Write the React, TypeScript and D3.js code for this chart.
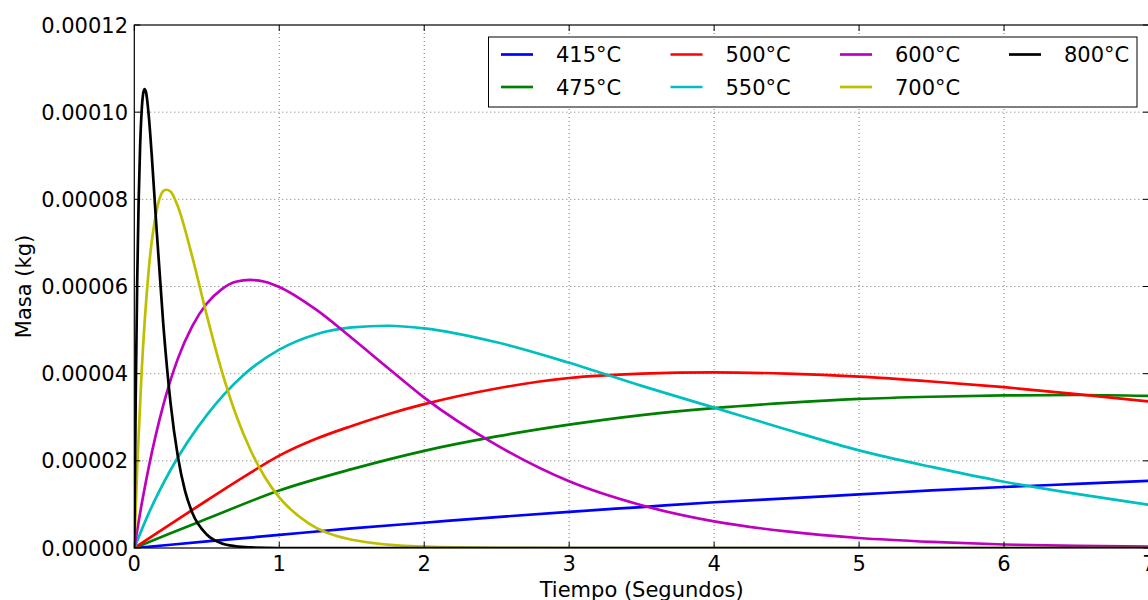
import React from "react";
import * as d3 from "d3";

const UNIT = 1e-5;

const t415 = [0, 0.5, 1, 1.5, 2, 2.5, 3, 3.5, 4, 4.5, 5, 5.5, 6, 6.5, 7];
const v415 = [0, 0.15, 0.3, 0.45, 0.58, 0.71, 0.83, 0.94, 1.05, 1.14, 1.23, 1.32, 1.4, 1.47, 1.54];

const t475 = [0, 0.25, 0.5, 1, 1.5, 2, 2.5, 3, 3.5, 4, 4.5, 5, 5.5, 6, 6.5, 7];
const v475 = [0, 0.34, 0.67, 1.32, 1.81, 2.23, 2.56, 2.83, 3.05, 3.21, 3.33, 3.42, 3.47, 3.5, 3.51, 3.49];

const t500 = [0, 0.25, 0.5, 0.75, 1, 1.25, 1.5, 1.75, 2, 2.5, 3, 3.5, 4, 4.5, 5, 5.5, 6, 6.5, 7];
const v500 = [0, 0.55, 1.09, 1.62, 2.12, 2.5, 2.8, 3.07, 3.3, 3.66, 3.9, 4.0, 4.03, 4.0, 3.93, 3.82, 3.69, 3.53, 3.36];

const t550 = [0, 0.1, 0.25, 0.5, 0.75, 1, 1.25, 1.5, 1.75, 2, 2.5, 3, 3.5, 4, 4.5, 5, 5.5, 6, 6.5, 7];
const v550 = [0, 0.8, 1.79, 3.05, 3.96, 4.55, 4.9, 5.06, 5.1, 5.04, 4.72, 4.25, 3.72, 3.22, 2.72, 2.24, 1.86, 1.52, 1.24, 0.99];

const t600 = [0, 0.05, 0.1, 0.2, 0.3, 0.4, 0.5, 0.6, 0.7, 0.8, 0.9, 1, 1.25, 1.5, 1.75, 2, 2.5, 3, 3.5, 4, 4.5, 5, 5.5, 6, 6.5, 7];
const v600 = [0, 0.99, 1.86, 3.28, 4.34, 5.09, 5.61, 5.93, 6.11, 6.15, 6.11, 5.99, 5.48, 4.82, 4.13, 3.45, 2.36, 1.53, 0.98, 0.61, 0.38, 0.23, 0.14, 0.08, 0.05, 0.03];

const t700 = [0, 0.02, 0.05, 0.1, 0.15, 0.2, 0.22, 0.25, 0.3, 0.4, 0.5, 0.6, 0.7, 0.8, 0.9, 1, 1.2, 1.5, 2, 2.5, 3, 4, 5, 6, 7];
const v700 = [0, 1.84, 4.0, 6.4, 7.67, 8.19, 8.22, 8.18, 7.84, 6.68, 5.34, 4.1, 3.07, 2.26, 1.63, 1.16, 0.57, 0.19, 0.03, 0.005, 0, 0, 0, 0, 0];

const t800 = [0, 0.01, 0.02, 0.03, 0.04, 0.05, 0.06, 0.07, 0.08, 0.1, 0.12, 0.15, 0.2, 0.25, 0.3, 0.35, 0.4, 0.5, 0.6, 0.7, 0.8, 1, 2, 3, 4, 5, 6, 7];
const v800 = [0, 3.53, 6.12, 7.96, 9.2, 9.98, 10.4, 10.53, 10.47, 9.91, 9.03, 7.5, 5.13, 3.33, 2.11, 1.31, 0.81, 0.31, 0.11, 0.04, 0.015, 0, 0, 0, 0, 0, 0, 0];

const seriesNames = ["415°C", "475°C", "500°C", "550°C", "600°C", "700°C", "800°C"];
const seriesTimes = [t415, t475, t500, t550, t600, t700, t800];
const seriesValues = [v415, v475, v500, v550, v600, v700, v800];
const seriesColors = ["#0000ff", "#008000", "#ff0000", "#00bfbf", "#bf00bf", "#bfbf00", "#000000"];

const xTicks = [0, 1, 2, 3, 4, 5, 6, 7];
const yTicks = [0, 0.00002, 0.00004, 0.00006, 0.00008, 0.0001, 0.00012];

const W = 1148;
const H = 600;
const L = 134.3;
const R = 1149;
const T = 25;
const B = 548;
const FONT = "'DejaVu Sans', sans-serif";
const FS = 21;

export default function App() {
  const x = d3.scaleLinear().domain([0, 7]).range([L, R]);
  const y = d3.scaleLinear().domain([0, 0.00012]).range([B, T]);
  const line = d3
    .line<[number, number]>()
    .x((d) => x(d[0]))
    .y((d) => y(d[1] * UNIT))
    .curve(d3.curveMonotoneX);
  const fmt = d3.format(".5f");

  const legendItems = seriesNames.map((n, i) => ({
    name: n,
    color: seriesColors[i],
    col: Math.floor(i / 2),
    row: i % 2,
  }));
  const colX = [501, 670.5, 840, 1009];
  const rowY = [54.5, 87];

  return (
    <svg
      width={W}
      height={H}
      style={{ position: "absolute", left: 0, top: 0, background: "#fff" }}
      fontFamily={FONT}
    >
      <defs>
        <clipPath id="plotclip">
          <rect x={L} y={T} width={R - L} height={B - T} />
        </clipPath>
      </defs>
      <rect x={0} y={0} width={W} height={H} fill="#fff" />
      <g stroke="#555" strokeWidth={1} strokeDasharray="1,3" opacity={0.8}>
        {xTicks.slice(1).map((t) => (
          <line key={"gx" + t} x1={x(t)} x2={x(t)} y1={T} y2={B} />
        ))}
        {yTicks.slice(1, -1).map((t) => (
          <line key={"gy" + t} x1={L} x2={R} y1={y(t)} y2={y(t)} />
        ))}
      </g>
      <g clipPath="url(#plotclip)" fill="none" strokeWidth={2.7} strokeLinejoin="round">
        {seriesNames.map((n, i) => {
          const pts = seriesTimes[i].map((t, j) => [t, seriesValues[i][j]] as [number, number]);
          return <path key={n} d={line(pts) || ""} stroke={seriesColors[i]} />;
        })}
      </g>
      <rect x={L} y={T} width={R - L} height={B - T} fill="none" stroke="#000" strokeWidth={1.2} />
      <g stroke="#000" strokeWidth={1}>
        {xTicks.map((t) => (
          <g key={"tx" + t}>
            <line x1={x(t)} x2={x(t)} y1={B} y2={B - 6} />
            <line x1={x(t)} x2={x(t)} y1={T} y2={T + 6} />
          </g>
        ))}
        {yTicks.map((t) => (
          <g key={"ty" + t}>
            <line x1={L} x2={L + 6} y1={y(t)} y2={y(t)} />
            <line x1={R} x2={R - 6} y1={y(t)} y2={y(t)} />
          </g>
        ))}
      </g>
      <g fontSize={FS} fill="#000">
        {xTicks.map((t) => (
          <text key={"lx" + t} x={x(t)} y={571} textAnchor="middle">
            {t}
          </text>
        ))}
        {yTicks.map((t) => (
          <text key={"ly" + t} x={128} y={y(t)} dy="0.36em" textAnchor="end">
            {fmt(t)}
          </text>
        ))}
      </g>
      <text x={(L + R) / 2} y={597} textAnchor="middle" fontSize={FS}>
        Tiempo (Segundos)
      </text>
      <text
        transform={`translate(31, ${(T + B) / 2}) rotate(-90)`}
        textAnchor="middle"
        fontSize={FS}
      >
        Masa (kg)
      </text>
      <rect x={488.5} y={37} width={648.5} height={70} fill="#fff" stroke="#000" strokeWidth={1} />
      {legendItems.map((it) => (
        <g key={"lg" + it.name}>
          <line
            x1={colX[it.col]}
            x2={colX[it.col] + 32}
            y1={rowY[it.row]}
            y2={rowY[it.row]}
            stroke={it.color}
            strokeWidth={2.7}
          />
          <text x={colX[it.col] + 55} y={rowY[it.row]} dy="0.36em" fontSize={FS}>
            {it.name}
          </text>
        </g>
      ))}
    </svg>
  );
}
